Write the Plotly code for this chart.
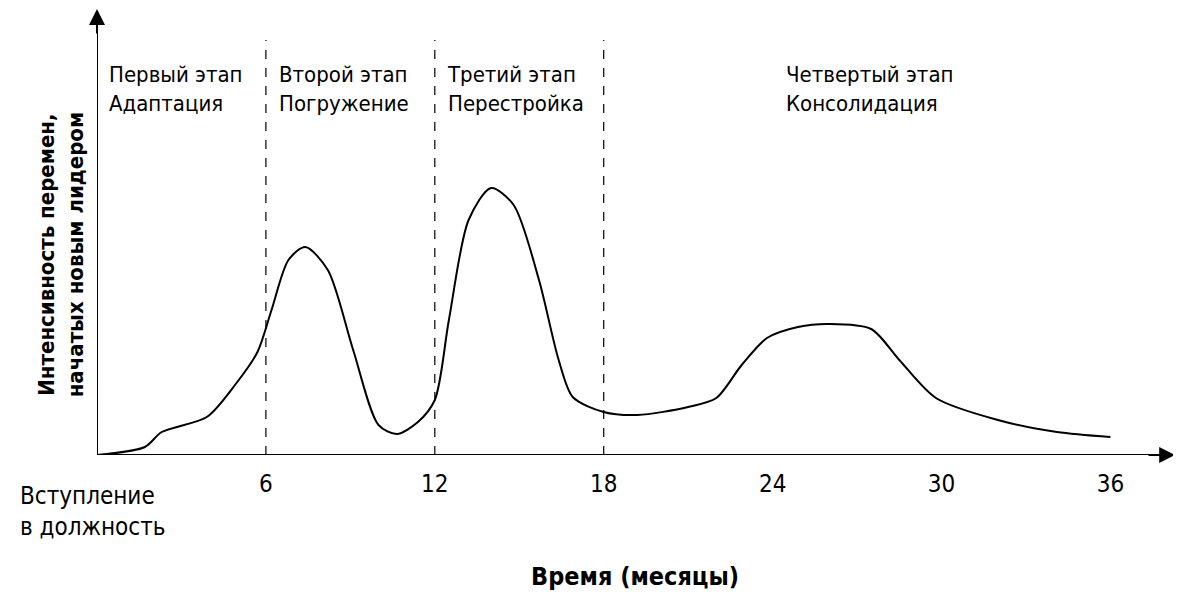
import plotly.graph_objects as go

months = [0, 1.7, 2.3, 3.9, 4.9, 5.7, 6.2, 6.8, 7.4, 8.2, 9.1, 10.0, 10.65, 11.4, 12.0,
          12.5, 13.2, 14.0, 14.8, 15.7, 16.4, 16.9, 18.0, 19.2, 21.0, 22.0, 22.9, 23.8,
          24.9, 26.0, 27.5, 28.5, 29.8, 32.0, 34.1, 36.0]
intensity = [0, 8, 23, 38, 70, 103, 145, 195, 208, 185, 105, 30, 21, 33, 55,
             135, 235, 267, 250, 175, 95, 58, 43, 40, 48, 57, 90, 117,
             128, 131, 126, 95, 57, 35, 23, 18]
tick_vals = [6, 12, 18, 24, 30, 36]
stage_bounds = [6, 12, 18]
stage_x = [0.35, 6.4, 12.35, 24.4]
stage_names = ["Первый этап<br>Адаптация", "Второй этап<br>Погружение",
               "Третий этап<br>Перестройка", "Четвертый этап<br>Консолидация"]

FONT = "Liberation Sans Narrow, DejaVu Sans Condensed, Roboto, sans-serif"

fig = go.Figure()
fig.add_trace(go.Scatter(x=months, y=intensity, mode="lines",
                         line=dict(color="black", width=2, shape="spline", smoothing=0.8),
                         hoverinfo="skip"))

shapes = [
    dict(type="line", xref="x", yref="y", x0=0, x1=37.6, y0=0, y1=0, line=dict(color="black", width=2)),
    dict(type="line", xref="x", yref="y", x0=0, x1=0, y0=0, y1=430, line=dict(color="black", width=2)),
]
for b in stage_bounds:
    shapes.append(dict(type="line", xref="x", yref="y", x0=b, x1=b, y0=0, y1=415,
                       line=dict(color="black", width=1.2, dash="dash")))

annotations = [
    dict(x=38.3, y=0, ax=37.3, ay=0, xref="x", yref="y", axref="x", ayref="y", text="",
         showarrow=True, arrowhead=2, arrowsize=1.6, arrowwidth=2, arrowcolor="black"),
    dict(x=0, y=446, ax=0, ay=420, xref="x", yref="y", axref="x", ayref="y", text="",
         showarrow=True, arrowhead=2, arrowsize=1.6, arrowwidth=2, arrowcolor="black"),
    dict(x=-0.073, y=-0.056, xref="paper", yref="paper", text="Вступление<br>в должность",
         showarrow=False, xanchor="left", yanchor="top", align="left",
         font=dict(size=24, family=FONT, color="black")),
    dict(x=0.498, y=-0.235, xref="paper", yref="paper", text="<b>Время (месяцы)</b>",
         showarrow=False, yanchor="top", font=dict(size=25, family=FONT, color="black")),
    dict(x=-0.06, y=0.447, xref="paper", yref="paper",
         text="<b>Интенсивность перемен,<br>начатых новым лидером</b>",
         showarrow=False, textangle=-90, font=dict(size=22, family=FONT, color="black")),
]
for sx, name in zip(stage_x, stage_names):
    annotations.append(dict(x=sx, y=395, xref="x", yref="y", text=name, showarrow=False,
                            xanchor="left", yanchor="top", align="left",
                            font=dict(size=22, family=FONT, color="black")))

fig.update_layout(
    width=1181, height=596, plot_bgcolor="white", paper_bgcolor="white",
    margin=dict(l=89, r=11, t=0, b=149), showlegend=False,
    xaxis=dict(range=[0, 38.4], showgrid=False, zeroline=False, showline=False,
               tickvals=tick_vals, ticktext=[str(v) for v in tick_vals], ticks="",
               ticklabelstandoff=12,
               tickfont=dict(size=24, family=FONT, color="black")),
    yaxis=dict(range=[0, 447], showgrid=False, zeroline=False, showline=False, showticklabels=False),
    shapes=shapes, annotations=annotations,
)
fig.write_html("out.html")
